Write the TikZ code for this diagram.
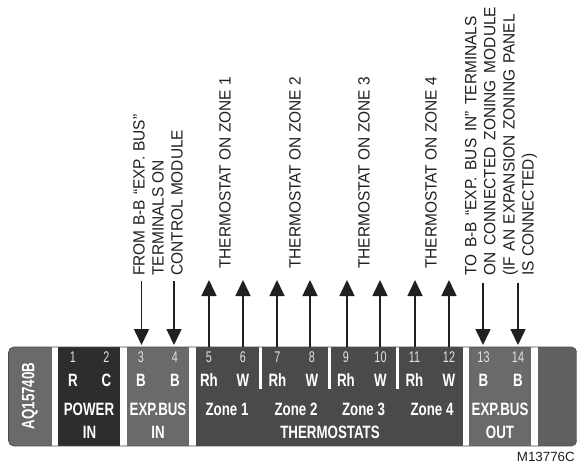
\documentclass[tikz,border=0pt]{standalone}
\usepackage{fontspec}
\usetikzlibrary{arrows.meta}
\setmainfont{Liberation Sans}
\newfontfamily\condb[FakeStretch=0.745]{Liberation Sans Bold}
\newfontfamily\condr[FakeStretch=0.7]{Liberation Sans}
\newfontfamily\notef[FakeStretch=0.95]{Liberation Sans}
\newcommand{\wsp}[2]{{\spaceskip=#1\relax #2}}
\definecolor{ink}{HTML}{231F20}
\definecolor{pgray}{HTML}{696A6C}
\definecolor{pdark}{HTML}{2E2C2D}
\definecolor{pzone}{HTML}{4A4A4C}
\definecolor{pend}{HTML}{5F6062}
\definecolor{numc}{HTML}{E2E2E2}
\tikzset{
  num/.style={inner sep=0pt,text=numc,font=\condr\fontsize{11.6pt}{13pt}\selectfont},
  term/.style={inner sep=0pt,text=white,font=\condb\fontsize{13.4pt}{15pt}\selectfont},
  wire/.style={draw=ink,line width=1.15pt,-{Triangle[width=11.25pt,length=12pt]}},
  note/.style={inner sep=0pt,rotate=90,anchor=west,align=left,text=ink,
    font=\notef\fontsize{12.2pt}{14.3pt}\selectfont},
}
\begin{document}
\begin{tikzpicture}[x=0.75pt,y=-0.75pt]
\useasboundingbox[fill=white] (0,0) rectangle (577,462);
% panel
\begin{scope}
\clip[rounded corners=4pt] (8.5,347) rectangle (576.7,446);
\fill[pgray] (8.5,347) rectangle (52,446);
\fill[white] (52,347) rectangle (58,446);
\fill[pdark] (58,347) rectangle (120,446);
\fill[white] (120,347) rectangle (127,446);
\fill[pgray] (127,347) rectangle (189,446);
\fill[white] (189,347) rectangle (196,446);
\fill[pzone] (196,347) rectangle (463,446);
\fill[white] (463,347) rectangle (469,446);
\fill[pgray] (469,347) rectangle (531,446);
\fill[white] (531,347) rectangle (538,446);
\fill[pend] (538,347) rectangle (577,446);
\fill[white] (259,347) rectangle (262,389);
\fill[white] (328,347) rectangle (331,389);
\fill[white] (396,347) rectangle (399,389);
\end{scope}
\draw[pzone,line width=0.5pt,rounded corners=4pt] (8.5,347) rectangle (576.7,446);
% labels in panel
\node[term,rotate=90] (model) at (30,396) {AQ15740B};
\node[num] (n1) at (73,357) {1};
\node[num] (n2) at (106.5,357) {2};
\node[num] (n3) at (141,357) {3};
\node[num] (n4) at (175,357) {4};
\node[num] (n5) at (209,357) {5};
\node[num] (n6) at (243,357) {6};
\node[num] (n7) at (277.5,357) {7};
\node[num] (n8) at (312,357) {8};
\node[num] (n9) at (346,357) {9};
\node[num] (n10) at (380.5,357) {10};
\node[num] (n11) at (414.5,357) {11};
\node[num] (n12) at (449,357) {12};
\node[num] (n13) at (483.5,357) {13};
\node[num] (n14) at (518,357) {14};
\node[term] (t1) at (73,380) {R};
\node[term] (t2) at (106.5,380) {C};
\node[term] (t3) at (141,380) {B};
\node[term] (t4) at (175,380) {B};
\node[term] (t5) at (209,380) {Rh};
\node[term] (t6) at (243,380) {W};
\node[term] (t7) at (277.5,380) {Rh};
\node[term] (t8) at (312,380) {W};
\node[term] (t9) at (346,380) {Rh};
\node[term] (t10) at (380.5,380) {W};
\node[term] (t11) at (414.5,380) {Rh};
\node[term] (t12) at (449,380) {W};
\node[term] (t13) at (483.5,380) {B};
\node[term] (t14) at (518,380) {B};
\node[term] (power) at (89,409) {POWER};
\node[term] (powerin) at (89.5,432) {IN};
\node[term] (expin) at (158,409) {EXP.BUS};
\node[term] (expinb) at (158,432) {IN};
\node[term] (z1) at (227,409) {Zone 1};
\node[term] (z2) at (296,409) {Zone 2};
\node[term] (z3) at (363.5,409) {Zone 3};
\node[term] (z4) at (432,409) {Zone 4};
\node[term] (thermo) at (330,432) {THERMOSTATS};
\node[term] (expout) at (500,409) {EXP.BUS};
\node[term] (expoutb) at (500,432) {OUT};
% notes
\node[note] (from) at (158,276) {\wsp{3.6pt}{FROM B-B “EXP. BUS”}\\TERMINALS ON\\CONTROL MODULE};
\node[note] (th1) at (225,269) {THERMOSTAT ON ZONE 1};
\node[note] (th2) at (295,269) {THERMOSTAT ON ZONE 2};
\node[note] (th3) at (364,269) {THERMOSTAT ON ZONE 3};
\node[note] (th4) at (431,269) {THERMOSTAT ON ZONE 4};
\node[note] (to) at (501,276) {\wsp{5pt}{TO B-B “EXP. BUS IN” TERMINALS}\\\wsp{5.4pt}{ON CONNECTED ZONING MODULE}\\\wsp{4.2pt}{(IF AN EXPANSION ZONING PANEL}\\IS CONNECTED)};
\node[inner sep=0pt,anchor=east,text=ink,font=\fontsize{10pt}{12pt}\selectfont] (code) at (575,457) {M13776C};
% wire ends
\coordinate (d3a) at (141.5,281); \coordinate (d3b) at (141.5,345);
\coordinate (d4a) at (174,281);   \coordinate (d4b) at (174,345);
\coordinate (d13a) at (483,283);  \coordinate (d13b) at (483,345);
\coordinate (d14a) at (518,283);  \coordinate (d14b) at (518,345);
\coordinate (u5a) at (209,347);   \coordinate (u5b) at (209,280);
\coordinate (u6a) at (243,347);   \coordinate (u6b) at (243,280);
\coordinate (u7a) at (277,347);   \coordinate (u7b) at (277,280);
\coordinate (u8a) at (310,347);   \coordinate (u8b) at (310,280);
\coordinate (u9a) at (347,347);   \coordinate (u9b) at (347,280);
\coordinate (u10a) at (380,347);  \coordinate (u10b) at (380,280);
\coordinate (u11a) at (415,347);  \coordinate (u11b) at (415,280);
\coordinate (u12a) at (449,347);  \coordinate (u12b) at (449,280);
\foreach \p/\q in {d3a/d3b,d4a/d4b,d13a/d13b,d14a/d14b,u5a/u5b,u6a/u6b,u7a/u7b,u8a/u8b,u9a/u9b,u10a/u10b,u11a/u11b,u12a/u12b}
  \draw[wire] (\p) -- (\q);
\end{tikzpicture}
\end{document}
